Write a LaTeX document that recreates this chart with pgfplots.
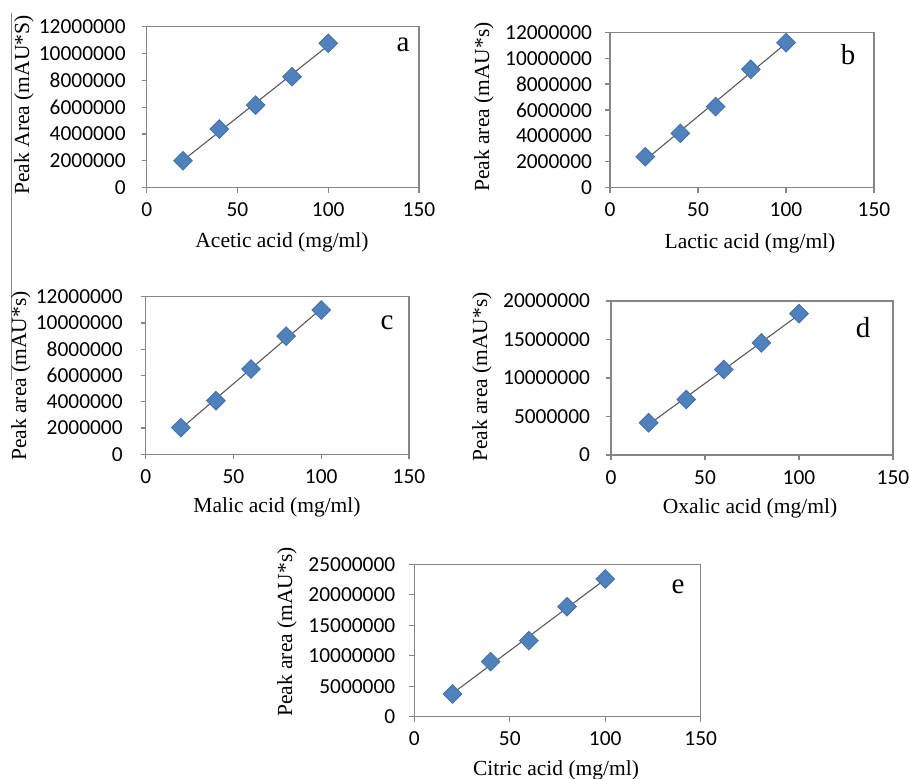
\documentclass[border=0pt]{standalone}
\usepackage{fontspec}
\setmainfont{Liberation Serif}
\newfontfamily\carlito{Carlito}
\usepackage{pgfplots}
\usepackage{pgfplotstable}
\pgfplotsset{compat=1.18}
\definecolor{mblue}{HTML}{4F81BD}
\definecolor{medge}{HTML}{466FA6}
\definecolor{axgray}{HTML}{868686}
\definecolor{trend}{HTML}{595959}

\pgfplotstableread{
x y
20 2010000
40 4370000
60 6160000
80 8270000
100 10760000
}\dataA
\pgfplotstableread{
x y
20 2390000
40 4200000
60 6260000
80 9140000
100 11200000
}\dataB
\pgfplotstableread{
x y
20 2030000
40 4080000
60 6490000
80 9000000
100 10990000
}\dataC
\pgfplotstableread{
x y
20 4190000
40 7210000
60 11100000
80 14560000
100 18360000
}\dataD
\pgfplotstableread{
x y
20 3720000
40 9030000
60 12470000
80 18050000
100 22600000
}\dataE

\pgfplotsset{
  acid/.style={
    scale only axis, anchor=south west,
    xmin=0, xmax=150, xtick={0,50,100,150}, ymin=0,
    axis line style={axgray, line width=0.6pt},
    tick style={axgray, line width=0.6pt},
    major tick length=2.5pt, tick align=outside, tick pos=left,
    scaled y ticks=false,
    /pgf/number format/assume math mode=true,
    yticklabel style={/pgf/number format/fixed, /pgf/number format/1000 sep={}},
    xticklabel style={yshift=-1.6pt},
    tick label style={font=\carlito\fontsize{10.7}{12}\selectfont},
    label style={font=\fontsize{10.75}{12}\selectfont},
    clip=false,
  },
  pts/.style={only marks, mark=square*, mark size=3.3pt,
    mark options={rotate=45, fill=mblue, draw=medge, line width=0.4pt}},
  fit/.style={no marks, trend, line width=0.55pt},
}
\newcommand{\panelletter}[3]{\node[font=\fontsize{14.5}{16}\selectfont, anchor=center] at (axis description cs:#1,#2) {#3};}

\begin{document}
\begin{tikzpicture}[x=1pt,y=1pt]
\useasboundingbox (0,0) rectangle (454.5,389);
\draw[axgray, line width=0.6pt] (5.85,382.5) -- (5.85,199);

% a
\begin{axis}[acid, at={(73.35pt,295.15pt)}, width=136.15pt, height=80.5pt,
  ymax=12000000, ytick={0,2000000,...,12000000},
  yticklabel style={xshift=-4.5pt},
  xlabel={Acetic acid (mg/ml)}, ylabel={Peak Area (mAU*S)},
  xlabel style={at={(axis description cs:0.4969,-0.3373)}, anchor=center},
  ylabel style={at={(axis description cs:-0.4506,0.5137)}, anchor=center}]
\addplot[pts] table[x=x,y=y] {\dataA};
\addplot[fit] table[x=x,y={create col/linear regression={y=y}}] {\dataA};
\panelletter{0.9412}{0.8863}{a}
\end{axis}

% b
\begin{axis}[acid, at={(305pt,295.15pt)}, width=132pt, height=77.7pt,
  ymax=12000000, ytick={0,2000000,...,12000000},
  yticklabel style={xshift=-3pt},
  xlabel={Lactic acid (mg/ml)}, ylabel={Peak area (mAU*s)},
  xlabel style={at={(axis description cs:0.5303,-0.3559)}, anchor=center},
  ylabel style={at={(axis description cs:-0.4773,0.5193)}, anchor=center}]
\addplot[pts] table[x=x,y=y] {\dataB};
\addplot[fit] table[x=x,y={create col/linear regression={y=y}}] {\dataB};
\panelletter{0.9015}{0.8539}{b}
\end{axis}

% c
\begin{axis}[acid, at={(72.85pt,161.85pt)}, width=131.65pt, height=78.8pt,
  ymax=12000000, ytick={0,2000000,...,12000000},
  yticklabel style={xshift=-5.5pt},
  xlabel={Malic acid (mg/ml)}, ylabel={Peak area (mAU*s)},
  xlabel style={at={(axis description cs:0.4987,-0.3344)}, anchor=center},
  ylabel style={at={(axis description cs:-0.4736,0.4968)}, anchor=center}]
\addplot[pts] table[x=x,y=y] {\dataC};
\addplot[fit] table[x=x,y={create col/linear regression={y=y}}] {\dataC};
\panelletter{0.9164}{0.8331}{c}
\end{axis}

% d
\begin{axis}[acid, at={(305.5pt,161.5pt)}, width=141pt, height=77pt,
  ymax=20000000, ytick={0,5000000,...,20000000},
  yticklabel style={xshift=-4.5pt},
  xlabel={Oxalic acid (mg/ml)}, ylabel={Peak area (mAU*s)},
  xlabel style={at={(axis description cs:0.4929,-0.3442)}, anchor=center},
  ylabel style={at={(axis description cs:-0.4574,0.5065)}, anchor=center}]
\addplot[pts] table[x=x,y=y] {\dataD};
\addplot[fit] table[x=x,y={create col/linear regression={y=y}}] {\dataD};
\panelletter{0.8936}{0.8247}{d}
\end{axis}

% e
\begin{axis}[acid, at={(207.15pt,30.65pt)}, width=143.2pt, height=76.2pt,
  ymax=25000000, ytick={0,5000000,...,25000000},
  yticklabel style={xshift=-3.5pt},
  xlabel={Citric acid (mg/ml)}, ylabel={Peak area (mAU*s)},
  xlabel style={at={(axis description cs:0.4948,-0.3497)}, anchor=center},
  ylabel style={at={(axis description cs:-0.4445,0.5558)}, anchor=center}]
\addplot[pts] table[x=x,y=y] {\dataE};
\addplot[fit] table[x=x,y={create col/linear regression={y=y}}] {\dataE};
\panelletter{0.9207}{0.851}{e}
\end{axis}
\end{tikzpicture}
\end{document}
